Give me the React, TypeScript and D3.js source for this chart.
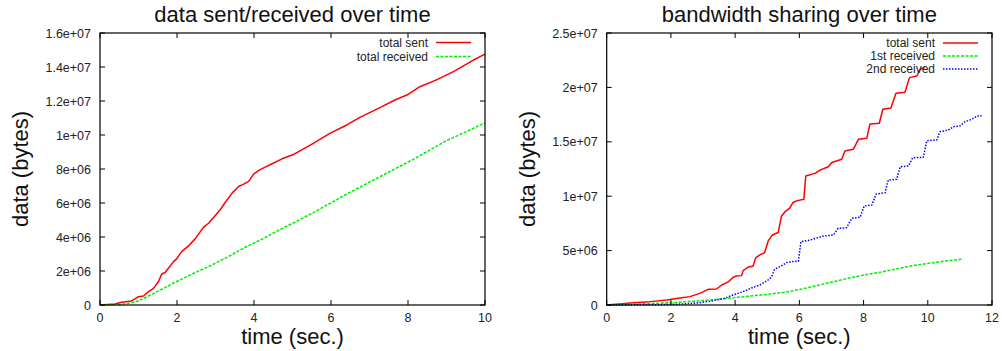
import React from "react";
import * as d3 from "d3";

// ---------- data (time in seconds, data in bytes) ----------
const leftSentT = [0, 0.39, 0.56, 0.82, 1.0, 1.13, 1.26, 1.39, 1.52, 1.6, 1.69, 1.91, 1.99, 2.12, 2.3, 2.47, 2.69, 2.82, 2.99, 3.12, 3.25, 3.43, 3.6, 3.73, 3.86, 3.99, 4.12, 4.29, 4.47, 4.73, 5.02, 5.54, 5.97, 6.41, 6.75, 7.27, 7.66, 7.97, 8.31, 8.74, 9.18, 9.7, 10];
const leftSentV = [0, 0.06, 0.16, 0.24, 0.49, 0.53, 0.79, 0.98, 1.38, 1.81, 1.91, 2.55, 2.71, 3.14, 3.48, 3.89, 4.58, 4.81, 5.25, 5.6, 6.03, 6.58, 6.97, 7.11, 7.27, 7.7, 7.92, 8.11, 8.31, 8.6, 8.85, 9.51, 10.1, 10.59, 11.04, 11.61, 12.06, 12.35, 12.84, 13.24, 13.73, 14.41, 14.76].map((v) => v * 1e6);

const leftRecvT = [0, 0.48, 0.74, 1.0, 1.26, 1.6, 1.99, 2.47, 2.91, 3.34, 3.77, 4.21, 4.64, 5.06, 5.54, 6.41, 7.27, 8.14, 9.0, 9.52, 10];
const leftRecvV = [0, 0.02, 0.1, 0.24, 0.53, 0.92, 1.38, 1.9, 2.36, 2.85, 3.4, 3.87, 4.4, 4.87, 5.43, 6.53, 7.55, 8.57, 9.67, 10.2, 10.72].map((v) => v * 1e6);

const rightSentT = [0, 0.83, 1.35, 1.87, 2.28, 2.59, 2.9, 3.16, 3.42, 3.58, 3.78, 3.94, 4.04, 4.2, 4.25, 4.4, 4.56, 4.64, 4.77, 4.92, 5.03, 5.16, 5.34, 5.44, 5.54, 5.7, 5.8, 5.91, 6.14, 6.2, 6.49, 6.64, 6.9, 7.01, 7.32, 7.42, 7.68, 7.84, 8.1, 8.2, 8.49, 8.6, 8.85, 9.01, 9.29, 9.43, 9.66, 9.76, 9.9];
const rightSentV = [0, 0.21, 0.31, 0.46, 0.64, 0.77, 1.07, 1.44, 1.47, 1.84, 2.12, 2.55, 2.67, 2.7, 3.16, 3.47, 3.59, 4.33, 4.6, 4.82, 5.89, 6.44, 6.66, 8.13, 8.53, 8.9, 9.42, 9.57, 9.71, 11.86, 12.1, 12.4, 12.71, 13.1, 13.39, 14.15, 14.31, 15.23, 15.32, 16.64, 16.7, 17.99, 18.11, 19.46, 19.55, 20.9, 21.05, 21.66, 21.85].map((v) => v * 1e6);

const right1stT = [0, 0.8, 1.9, 2.9, 3.9, 5.0, 5.5, 6.0, 6.5, 7.0, 7.5, 8.0, 8.5, 9.0, 9.5, 10.0, 10.5, 11.1];
const right1stV = [0, 0.07, 0.2, 0.38, 0.65, 0.98, 1.15, 1.42, 1.75, 2.1, 2.45, 2.75, 3.0, 3.3, 3.6, 3.82, 4.02, 4.23].map((v) => v * 1e6);

const right2ndT = [0, 1.5, 2.38, 2.9, 3.32, 3.63, 3.94, 4.25, 4.56, 4.77, 5.03, 5.13, 5.23, 5.44, 5.6, 5.8, 5.97, 6.05, 6.33, 6.75, 7.06, 7.21, 7.47, 7.63, 7.89, 8.02, 8.26, 8.39, 8.67, 8.77, 9.03, 9.14, 9.4, 9.53, 9.86, 9.97, 10.28, 10.38, 10.64, 10.8, 11.0, 11.16, 11.37, 11.53, 11.68];
const right2ndV = [0, 0.02, 0.09, 0.21, 0.4, 0.58, 0.92, 1.23, 1.63, 1.84, 2.3, 2.55, 3.28, 3.59, 3.9, 3.99, 4.02, 5.82, 5.97, 6.34, 6.43, 7.05, 7.1, 7.97, 8.06, 9.1, 9.19, 10.2, 10.32, 11.49, 11.55, 12.71, 12.78, 13.54, 13.57, 15.1, 15.17, 15.93, 16.08, 16.39, 16.45, 16.85, 17.07, 17.37, 17.4].map((v) => v * 1e6);

// ---------- ticks ----------
const leftXTicks = [0, 2, 4, 6, 8, 10];
const leftYTicks = [0, 2e6, 4e6, 6e6, 8e6, 1e7, 1.2e7, 1.4e7, 1.6e7];
const leftYLabels = ["0", "2e+06", "4e+06", "6e+06", "8e+06", "1e+07", "1.2e+07", "1.4e+07", "1.6e+07"];
const rightXTicks = [0, 2, 4, 6, 8, 10, 12];
const rightYTicks = [0, 5e6, 1e7, 1.5e7, 2e7, 2.5e7];
const rightYLabels = ["0", "5e+06", "1e+07", "1.5e+07", "2e+07", "2.5e+07"];

const leftTitle = "data sent/received over time";
const rightTitle = "bandwidth sharing over time";
const xTitle = "time (sec.)";
const yTitle = "data (bytes)";
const leftLegend = ["total sent", "total received"];
const rightLegend = ["total sent", "1st received", "2nd received"];

const FONT = "'Liberation Sans', Arial, Helvetica, sans-serif";
const RED = "#ff0000";
const GREEN = "#00ee00";
const BLUE = "#0000ff";

type Series = { t: number[]; v: number[]; color: string; dash?: string; label: string };

function Panel(props: {
  x0: number; x1: number; y0: number; y1: number;
  xMax: number; yMax: number;
  xTicks: number[]; yTicks: number[]; yLabels: string[];
  title: string; yLabelX: number;
  series: Series[]; legendTextX: number; legendLineX0: number; legendLineX1: number; legendY: number[];
}) {
  const { x0, x1, y0, y1, xMax, yMax, xTicks, yTicks, yLabels, title, yLabelX, series } = props;
  const xs = d3.scaleLinear().domain([0, xMax]).range([x0, x1]);
  const ys = d3.scaleLinear().domain([0, yMax]).range([y1, y0]);
  const tl = 5;
  const cx = (x0 + x1) / 2;
  const cy = (y0 + y1) / 2;
  return (
    <g>
      <text x={cx} y={22} textAnchor="middle" fontSize={22} fontFamily={FONT} fill="#111">{title}</text>
      <text transform={`translate(${yLabelX},${cy}) rotate(-90)`} textAnchor="middle" fontSize={22} fontFamily={FONT} fill="#111">{yTitle}</text>
      <text x={cx} y={344} textAnchor="middle" fontSize={22} fontFamily={FONT} fill="#111">{xTitle}</text>
      {series.map((s, i) => {
        const pts = s.t.map((t, j) => [t, s.v[j]] as [number, number]);
        const line = d3.line<[number, number]>().x((d) => xs(d[0])).y((d) => ys(d[1]));
        return (
          <path key={i} d={line(pts) || ""} fill="none" stroke={s.color} strokeWidth={1.5} strokeDasharray={s.dash} strokeLinejoin="round" />
        );
      })}
      {xTicks.map((t, i) => (
        <g key={"x" + i}>
          <line x1={xs(t)} x2={xs(t)} y1={y1} y2={y1 - tl} stroke="#000" strokeWidth={1} />
          <line x1={xs(t)} x2={xs(t)} y1={y0} y2={y0 + tl} stroke="#000" strokeWidth={1} />
          <text x={xs(t)} y={322} textAnchor="middle" fontSize={12.5} fontFamily={FONT} fill="#222">{String(t)}</text>
        </g>
      ))}
      {yTicks.map((v, i) => (
        <g key={"y" + i}>
          <line x1={x0} x2={x0 + tl} y1={ys(v)} y2={ys(v)} stroke="#000" strokeWidth={1} />
          <line x1={x1} x2={x1 - tl} y1={ys(v)} y2={ys(v)} stroke="#000" strokeWidth={1} />
          <text x={x0 - 9} y={ys(v) + 4.5} textAnchor="end" fontSize={12.5} fontFamily={FONT} fill="#222">{yLabels[i]}</text>
        </g>
      ))}
      <rect x={x0} y={y0} width={x1 - x0} height={y1 - y0} fill="none" stroke="#000" strokeWidth={1.2} />
      {series.map((s, i) => (
        <g key={"l" + i}>
          <text x={props.legendTextX} y={props.legendY[i] + 4.3} textAnchor="end" fontSize={12} fontFamily={FONT} fill="#222">{s.label}</text>
          <line x1={props.legendLineX0} x2={props.legendLineX1} y1={props.legendY[i]} y2={props.legendY[i]} stroke={s.color} strokeWidth={1.5} strokeDasharray={s.dash} />
        </g>
      ))}
    </g>
  );
}

export default function App() {
  const leftSeries: Series[] = [
    { t: leftSentT, v: leftSentV, color: RED, label: leftLegend[0] },
    { t: leftRecvT, v: leftRecvV, color: GREEN, dash: "3,1.5", label: leftLegend[1] },
  ];
  const rightSeries: Series[] = [
    { t: rightSentT, v: rightSentV, color: RED, label: rightLegend[0] },
    { t: right1stT, v: right1stV, color: GREEN, dash: "3,1.5", label: rightLegend[1] },
    { t: right2ndT, v: right2ndV, color: BLUE, dash: "1.5,1.5", label: rightLegend[2] },
  ];
  return (
    <div style={{ position: "absolute", left: 0, top: 0 }}>
      <svg width={1002} height={351} style={{ display: "block", background: "#fff" }}>
        <Panel x0={100} x1={485} y0={33} y1={305} xMax={10} yMax={1.6e7}
          xTicks={leftXTicks} yTicks={leftYTicks} yLabels={leftYLabels}
          title={leftTitle} yLabelX={28} series={leftSeries}
          legendTextX={428} legendLineX0={436} legendLineX1={471} legendY={[42.5, 56.5]} />
        <Panel x0={606.7} x1={992} y0={33} y1={305} xMax={12} yMax={2.5e7}
          xTicks={rightXTicks} yTicks={rightYTicks} yLabels={rightYLabels}
          title={rightTitle} yLabelX={535} series={rightSeries}
          legendTextX={935} legendLineX0={943} legendLineX1={978} legendY={[43, 56, 69]} />
      </svg>
    </div>
  );
}
